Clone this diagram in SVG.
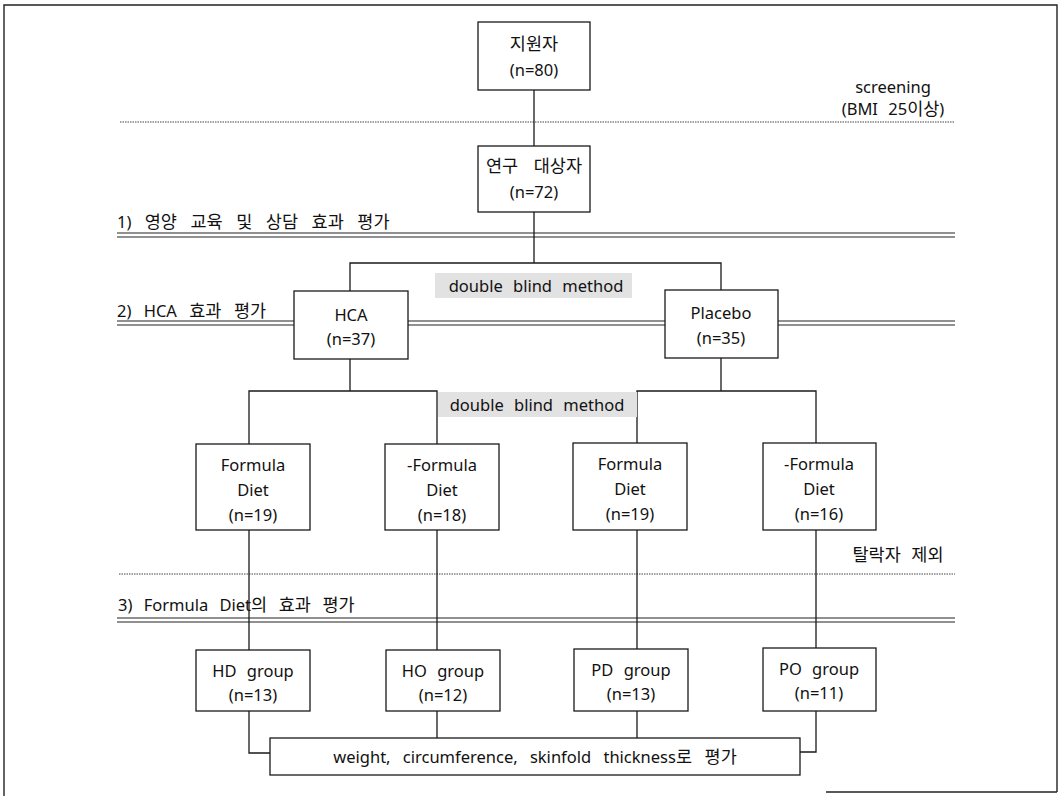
<svg xmlns="http://www.w3.org/2000/svg" width="1062" height="796" viewBox="0 0 1062 796">
<style>
  .bg{fill:#ffffff}
  .box{fill:#ffffff;stroke:#1a1a1a;stroke-width:1.3}
  .ln{fill:none;stroke:#1a1a1a;stroke-width:1.3}
  .dbl{fill:none;stroke:#222;stroke-width:1.2}
  .dot{fill:none;stroke:#444;stroke-width:1;stroke-dasharray:1.5 1}
  .frame{fill:none;stroke:#222;stroke-width:1.4}
  .shade{fill:#e2e2e2}
  text{font-family:"Noto Sans","Noto Sans CJK KR",sans-serif;font-size:16.5px;fill:#111;word-spacing:6px}
  .k{font-size:17.5px}
  .c{text-anchor:middle}
</style>
<rect class="bg" x="0" y="0" width="1062" height="796"/>

<g id="frame">
  <path class="frame" d="M4,796 V5 H1057 V792 M826,792 H1057"/>
</g>

<g id="phase-lines">
  <line class="dot" x1="120" y1="122" x2="954" y2="122"/>
  <text class="c" x="893" y="93">screening</text>
  <text class="c" x="893" y="115">(BMI 25<tspan class="k">이상</tspan>)</text>

  <text x="117" y="228" style="word-spacing:9px">1) <tspan class="k">영양 교육 및 상담 효과 평가</tspan></text>
  <path class="dbl" d="M117,233 H955 M117,237 H955"/>

  <text x="117" y="317" style="word-spacing:8px">2) HCA <tspan class="k">효과 평가</tspan></text>
  <path class="dbl" d="M117,321 H294 M117,325 H294 M408,321 H665 M408,325 H665 M778,321 H955 M778,325 H955"/>

  <line class="dot" x1="119" y1="574" x2="955" y2="574"/>
  <text class="c k" x="898" y="561">탈락자 제외</text>

  <text x="118" y="611" style="word-spacing:7px">3) Formula Diet<tspan class="k">의 효과 평가</tspan></text>
  <path class="dbl" d="M117,618 H955 M117,622 H955"/>
</g>

<g id="connectors">
  <line class="ln" x1="534" y1="90" x2="534" y2="146"/>
  <path class="ln" d="M534,212 V263 M350,291 V263 H721 V290"/>
  <path class="ln" d="M350,359 V391 M249,444 V391 H437 V444"/>
  <path class="ln" d="M721,358 V391 M637,444 V391 H816 V444"/>
  <line class="ln" x1="249" y1="530" x2="249" y2="650"/>
  <line class="ln" x1="437" y1="530" x2="437" y2="650"/>
  <line class="ln" x1="637" y1="530" x2="637" y2="650"/>
  <line class="ln" x1="816" y1="530" x2="816" y2="650"/>
  <path class="ln" d="M249,711 V753 H270"/>
  <line class="ln" x1="437" y1="711" x2="437" y2="738"/>
  <line class="ln" x1="637" y1="711" x2="637" y2="738"/>
  <path class="ln" d="M816,711 V752 H800"/>
</g>

<g id="label-blind-1">
  <rect class="shade" x="435" y="273" width="197" height="25"/>
  <text class="c" x="536" y="292">double blind method</text>
</g>
<g id="label-blind-2">
  <rect class="shade" x="438" y="392" width="199" height="25"/>
  <text class="c" x="537" y="411">double blind method</text>
</g>

<g id="n-volunteers">
  <rect class="box" x="478" y="22" width="112" height="68"/>
  <text class="c k" x="534" y="50">지원자</text>
  <text class="c" x="534" y="76">(n=80)</text>
</g>
<g id="n-subjects">
  <rect class="box" x="478" y="146" width="112" height="66"/>
  <text class="c k" x="534" y="172" style="word-spacing:11px">연구 대상자</text>
  <text class="c" x="534" y="198">(n=72)</text>
</g>
<g id="n-hca">
  <rect class="box" x="294" y="291" width="114" height="68"/>
  <text class="c" x="351" y="321">HCA</text>
  <text class="c" x="351" y="345">(n=37)</text>
</g>
<g id="n-placebo">
  <rect class="box" x="665" y="290" width="113" height="68"/>
  <text class="c" x="721" y="319">Placebo</text>
  <text class="c" x="721" y="344">(n=35)</text>
</g>

<g id="n-hca-fd">
  <rect class="box" x="196" y="444" width="114" height="86"/>
  <text class="c" x="253" y="471">Formula</text>
  <text class="c" x="253" y="496">Diet</text>
  <text class="c" x="253" y="521">(n=19)</text>
</g>
<g id="n-hca-nfd">
  <rect class="box" x="385" y="444" width="114" height="86"/>
  <text class="c" x="442" y="471">-Formula</text>
  <text class="c" x="442" y="496">Diet</text>
  <text class="c" x="442" y="521">(n=18)</text>
</g>
<g id="n-pla-fd">
  <rect class="box" x="573" y="443" width="114" height="87"/>
  <text class="c" x="630" y="470">Formula</text>
  <text class="c" x="630" y="495">Diet</text>
  <text class="c" x="630" y="520">(n=19)</text>
</g>
<g id="n-pla-nfd">
  <rect class="box" x="763" y="443" width="113" height="87"/>
  <text class="c" x="819" y="470">-Formula</text>
  <text class="c" x="819" y="495">Diet</text>
  <text class="c" x="819" y="520">(n=16)</text>
</g>

<g id="n-hd">
  <rect class="box" x="196" y="650" width="114" height="61"/>
  <text class="c" x="253" y="677">HD group</text>
  <text class="c" x="253" y="701">(n=13)</text>
</g>
<g id="n-ho">
  <rect class="box" x="386" y="650" width="114" height="61"/>
  <text class="c" x="443" y="677">HO group</text>
  <text class="c" x="443" y="701">(n=12)</text>
</g>
<g id="n-pd">
  <rect class="box" x="574" y="649" width="114" height="62"/>
  <text class="c" x="631" y="676">PD group</text>
  <text class="c" x="631" y="700">(n=13)</text>
</g>
<g id="n-po">
  <rect class="box" x="763" y="648" width="113" height="63"/>
  <text class="c" x="819" y="675">PO group</text>
  <text class="c" x="819" y="699">(n=11)</text>
</g>

<g id="n-evaluation">
  <rect class="box" x="270" y="738" width="530" height="37"/>
  <text class="c" x="535" y="763" style="word-spacing:8px">weight, circumference, skinfold thickness<tspan class="k">로 평가</tspan></text>
</g>
</svg>
